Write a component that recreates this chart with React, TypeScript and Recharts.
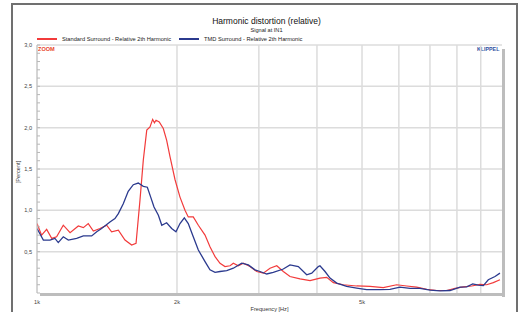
import { LineChart, Line, XAxis, YAxis, CartesianGrid, Legend } from 'recharts';

// Standard Surround - relative 2nd harmonic (percent)
const stdFreq = [
  1000, 1023, 1049, 1076, 1102, 1139, 1178, 1227, 1258, 1289, 1322, 1366, 1412, 1447, 1496, 1546,
  1598, 1633, 1665, 1693, 1722, 1750, 1773, 1789, 1803, 1832, 1869, 1900, 1932, 1981, 2030, 2081,
  2115, 2168, 2223, 2298, 2355, 2415, 2475, 2537, 2601, 2644, 2710, 2778, 2871, 2968, 3067, 3170,
  3278, 3386, 3500, 3679, 3865, 4060, 4198, 4338, 4557, 4870, 5202, 5555, 5936, 6238, 6555, 6888,
  7237, 7605, 7924, 8256, 8606, 8967, 9270, 9579, 9900,
];
const stdValues = [
  0.84, 0.70, 0.77, 0.66, 0.68, 0.82, 0.73, 0.81, 0.79, 0.84, 0.75, 0.78, 0.82, 0.74, 0.76, 0.64,
  0.58, 0.60, 1.12, 1.61, 1.97, 2.01, 2.10, 2.06, 2.09, 2.07, 1.99, 1.85, 1.65, 1.37, 1.16, 1.00,
  0.92, 0.92, 0.82, 0.70, 0.56, 0.44, 0.36, 0.32, 0.33, 0.36, 0.33, 0.36, 0.32, 0.26, 0.24, 0.30,
  0.33, 0.26, 0.20, 0.17, 0.15, 0.18, 0.19, 0.125, 0.10, 0.085, 0.08, 0.065, 0.10, 0.085, 0.07, 0.045,
  0.03, 0.03, 0.055, 0.075, 0.085, 0.105, 0.10, 0.125, 0.16,
];

// TMD Surround - relative 2nd harmonic (percent)
const tmdFreq = [
  1000, 1032, 1066, 1093, 1111, 1139, 1168, 1217, 1258, 1311, 1344, 1377, 1435, 1471, 1496, 1533,
  1571, 1611, 1651, 1693, 1727, 1756, 1785, 1824, 1855, 1900, 1948, 1990, 2030, 2074, 2115, 2168,
  2223, 2298, 2355, 2415, 2475, 2559, 2644, 2756, 2848, 2943, 3017, 3119, 3222, 3386, 3500, 3648,
  3802, 3898, 4027, 4060, 4163, 4267, 4411, 4634, 4870, 5117, 5466, 5742, 6034, 6342, 6664, 7002,
  7357, 7731, 8123, 8398, 8650, 8892, 9117, 9344, 9660, 9900,
];
const tmdValues = [
  0.78, 0.64, 0.64, 0.66, 0.61, 0.68, 0.64, 0.66, 0.69, 0.69, 0.74, 0.78, 0.86, 0.90, 0.96, 1.08,
  1.23, 1.31, 1.33, 1.29, 1.28, 1.16, 1.04, 0.94, 0.82, 0.85, 0.78, 0.74, 0.84, 0.91, 0.84, 0.68,
  0.52, 0.38, 0.28, 0.25, 0.26, 0.27, 0.30, 0.36, 0.34, 0.28, 0.26, 0.23, 0.25, 0.29, 0.34, 0.32,
  0.22, 0.24, 0.32, 0.33, 0.26, 0.18, 0.12, 0.08, 0.06, 0.04, 0.04, 0.045, 0.07, 0.055, 0.055, 0.035,
  0.025, 0.03, 0.07, 0.075, 0.11, 0.095, 0.09, 0.16, 0.20, 0.24,
];

const freqTicks = [1000, 2000, 3000, 4000, 5000, 6000, 7000, 8000, 9000];
const freqLabels: Record<number, string> = { 1000: '1k', 2000: '2k', 5000: '5k' };
const yTicks = [
  0, 0.1, 0.2, 0.3, 0.4, 0.5, 0.6, 0.7, 0.8, 0.9, 1.0, 1.1, 1.2, 1.3, 1.4, 1.5,
  1.6, 1.7, 1.8, 1.9, 2.0, 2.1, 2.2, 2.3, 2.4, 2.5, 2.6, 2.7, 2.8, 2.9, 3.0,
];
const yLabelTicks = [0.5, 1.0, 1.5, 2.0, 2.5, 3.0];

const stdData = stdFreq.map((f, i) => ({ f, v: stdValues[i] }));
const tmdData = tmdFreq.map((f, i) => ({ f, v: tmdValues[i] }));

const FONT = '"Liberation Sans", Arial, sans-serif';
const RED = '#f23b3b';
const BLUE = '#2b3a8e';

const YTick = (props: any) => {
  const { x, y, payload } = props;
  const v = payload.value;
  const major = yLabelTicks.some((t) => Math.abs(t - v) < 1e-6);
  return (
    <g>
      <line x1={x + 5} x2={x + 8} y1={y} y2={y} stroke="#b8b8b8" strokeWidth={1} />
      {major && (
        <text x={x} y={y} textAnchor="end" dominantBaseline="central" fontSize={5.6} fill="#444" fontFamily={FONT}>
          {v.toFixed(1).replace('.', ',')}
        </text>
      )}
    </g>
  );
};

const XTick = (props: any) => {
  const { x, y, payload } = props;
  const label = freqLabels[payload.value];
  if (!label) return <g />;
  return (
    <text x={x} y={y} textAnchor="middle" dominantBaseline="central" fontSize={5.6} fill="#444" fontFamily={FONT}>
      {label}
    </text>
  );
};

const PercentLabel = () => (
  <text x={18} y={172} transform="rotate(-90 18 172)" textAnchor="middle" dominantBaseline="central" fontSize={5.6} fill="#333" fontFamily={FONT}>
    [Percent]
  </text>
);

const renderLegend = (props: any) => (
  <div style={{ display: 'flex', alignItems: 'center', fontFamily: FONT, fontSize: 5.7, color: '#222', whiteSpace: 'nowrap' }}>
    {props.payload.map((p: any) => (
      <span key={p.value} style={{ display: 'flex', alignItems: 'center', marginRight: 8 }}>
        <span style={{ display: 'inline-block', width: 20, height: 2.5, background: p.color, marginRight: 5 }} />
        {p.value}
      </span>
    ))}
  </div>
);

export default function App() {
  return (
    <div style={{ position: 'absolute', left: 0, top: 0, width: 525, height: 312, overflow: 'hidden', background: '#fff' }}>
      {/* outer frame */}
      <div style={{ position: 'absolute', left: 11, top: 3, width: 507, height: 340, border: '2px solid #707070', boxSizing: 'border-box' }} />
      {/* plot shadow */}
      <div style={{ position: 'absolute', left: 502, top: 49, width: 3, height: 248, background: '#bdbdbd' }} />
      <div style={{ position: 'absolute', left: 40, top: 293, width: 465, height: 3, background: '#bdbdbd' }} />

      <div style={{ position: 'absolute', left: 0, top: 16, width: 525, textAlign: 'center', paddingLeft: 8, boxSizing: 'border-box', fontFamily: FONT, fontSize: 8.5, color: '#111' }}>
        Harmonic distortion (relative)
      </div>
      <div style={{ position: 'absolute', left: 0, top: 27, width: 525, textAlign: 'center', paddingLeft: 8, boxSizing: 'border-box', fontFamily: FONT, fontSize: 5.6, color: '#222' }}>
        Signal at IN1
      </div>
      <div style={{ position: 'absolute', left: 38, top: 46, fontFamily: FONT, fontSize: 5.6, fontWeight: 'bold', color: '#e8452a' }}>ZOOM</div>
      <div style={{ position: 'absolute', left: 477, top: 46, fontFamily: FONT, fontSize: 5.3, fontWeight: 'bold', color: '#2f4f9f' }}>KLIPPEL</div>

      <div style={{ position: 'absolute', left: 0, top: 0 }}>
        <LineChart width={525} height={312} margin={{ top: 45, right: 23, bottom: 0, left: 0 }}>
          <CartesianGrid
            stroke="#dcdcdc"
            strokeWidth={1.5}
            horizontalValues={yLabelTicks}
            verticalValues={freqTicks}
          />
          <XAxis
            dataKey="f"
            type="number"
            scale="log"
            domain={[1000, 10000]}
            allowDataOverflow
            ticks={freqTicks}
            interval={0}
            height={19}
            axisLine={false}
            tickLine={false}
            tickSize={0}
            tickMargin={9}
            tick={<XTick />}
            label={{ value: 'Frequency [Hz]', position: 'insideBottom', offset: 1, fontSize: 5.6, fill: '#333', fontFamily: FONT }}
          />
          <YAxis
            type="number"
            domain={[0, 3]}
            ticks={yTicks}
            interval={0}
            width={37}
            axisLine={{ stroke: '#c4c4c4' }}
            tickLine={false}
            tickSize={0}
            tickMargin={5}
            tick={<YTick />}
            label={<PercentLabel />}
          />
          <Legend
            layout="horizontal"
            verticalAlign="middle"
            align="center"
            content={renderLegend}
            wrapperStyle={{ left: 37, top: 36, width: 'auto' }}
          />
          <Line
            data={stdData}
            dataKey="v"
            name="Standard Surround - Relative 2th Harmonic"
            type="linear"
            stroke={RED}
            strokeWidth={1.2}
            dot={false}
            isAnimationActive={false}
          />
          <Line
            data={tmdData}
            dataKey="v"
            name="TMD Surround - Relative 2th Harmonic"
            type="linear"
            stroke={BLUE}
            strokeWidth={1.3}
            dot={false}
            isAnimationActive={false}
          />
        </LineChart>
      </div>
    </div>
  );
}
